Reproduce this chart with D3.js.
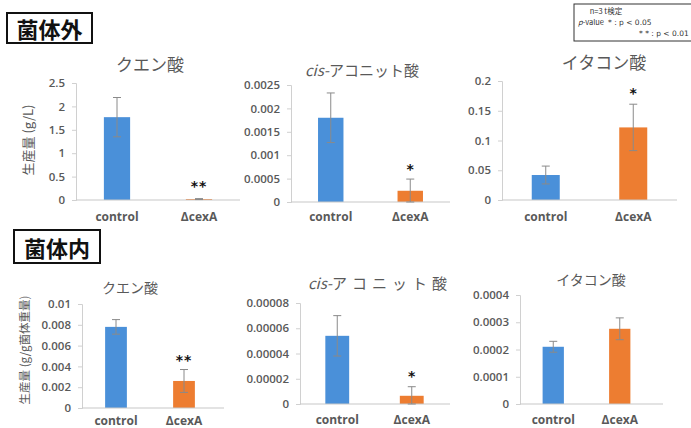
<!DOCTYPE html>
<html><head><meta charset="utf-8">
<script src="https://cdn.jsdelivr.net/npm/d3@7/dist/d3.min.js"></script>
<style>
body{margin:0;background:#fff;}
svg{display:block;}
</style></head>
<body>
<svg id="chart" width="691" height="428"></svg>
<script>
// ---- data ----
const categories = ["control", "ΔcexA"];
const sectionLabels = ["菌体外", "菌体内"];
const panelTitles = ["クエン酸", "cis-アコニット酸", "イタコン酸", "クエン酸", "cis-アコニット酸", "イタコン酸"];
const yLabels = ["生産量 (g/L)", "生産量 (g/g菌体重量)"];

const means = [
  [1.77, 0.02],
  [0.0018, 0.00024],
  [0.042, 0.122],
  [0.0078, 0.0026],
  [0.000054, 0.0000065],
  [0.00021, 0.000276]
];
const errors = [
  [0.42, 0.01],
  [0.00053, 0.00025],
  [0.015, 0.039],
  [0.0007, 0.0011],
  [0.000016, 0.0000072],
  [0.00002, 0.00004]
];
const yMax = [2.5, 0.0025, 0.2, 0.01, 0.00008, 0.0004];
const tickValues = [
  [0, 0.5, 1, 1.5, 2, 2.5],
  [0, 0.0005, 0.001, 0.0015, 0.002, 0.0025],
  [0, 0.05, 0.1, 0.15, 0.2],
  [0, 0.002, 0.004, 0.006, 0.008, 0.01],
  [0, 0.00002, 0.00004, 0.00006, 0.00008],
  [0, 0.0001, 0.0002, 0.0003, 0.0004]
];
const tickLabels = [
  ["0", "0.5", "1", "1.5", "2", "2.5"],
  ["0", "0.0005", "0.001", "0.0015", "0.002", "0.0025"],
  ["0", "0.05", "0.1", "0.15", "0.2"],
  ["0", "0.002", "0.004", "0.006", "0.008", "0.01"],
  ["0", "0.00002", "0.00004", "0.00006", "0.00008"],
  ["0", "0.0001", "0.0002", "0.0003", "0.0004"]
];
const significance = [
  ["", "**"], ["", "*"], ["", "*"], ["", "**"], ["", "*"], ["", ""]
];
const legendLines = ["n=3 t検定", "* : p < 0.05", "* * : p < 0.01"];

// ---- layout ----
const layout = [
  {x0: 76, x1: 240, axEnd: 240, yB: 200, yT: 83, tx: 150, ty: 71, tsize: 17, tls: 0, sy: 183, xp: 12},
  {x0: 291, x1: 450, axEnd: 450, yB: 202, yT: 85, tx: 362, ty: 76, tsize: 15, tls: 0, sy: 166, xp: 10},
  {x0: 502, x1: 677, axEnd: 677, yB: 200, yT: 81, tx: 604, ty: 69, tsize: 17, tls: 0, sy: 90, xp: 12},
  {x0: 82, x1: 218, axEnd: 224, yB: 408, yT: 304, tx: 130, ty: 293, tsize: 14, tls: 0, sy: 357, xp: 8},
  {x0: 300, x1: 449, axEnd: 450, yB: 404, yT: 303, tx: 380, ty: 289, tsize: 15, tls: 5, sy: 373, xp: 11},
  {x0: 520, x1: 653, axEnd: 663, yB: 404, yT: 295, tx: 591, ty: 285, tsize: 14, tls: 0, sy: 0, xp: 11}
];
const colors = ["#4a90d9", "#ed7d31"];
const gray = "#595959";

const svg = d3.select("#chart");
svg.append("rect").attr("width", 691).attr("height", 428).attr("fill", "#fff");

layout.forEach((L, i) => {
  const g = svg.append("g");
  const x = d3.scaleBand().domain(categories).range([L.x0, L.x1])
    .paddingInner(0.68).paddingOuter(0.34);
  const y = d3.scaleLinear().domain([0, yMax[i]]).range([L.yB, L.yT]);

  // y axis
  const yAxis = d3.axisLeft(y).tickValues(tickValues[i])
    .tickFormat((d, k) => tickLabels[i][k]).tickSize(4).tickPadding(7);
  const ya = g.append("g").attr("transform", `translate(${L.x0},0)`).call(yAxis);
  ya.select(".domain").attr("stroke", "#d0d0d0");
  ya.selectAll(".tick line").attr("stroke", "#d0d0d0");
  ya.selectAll(".tick text").attr("fill", gray)
    .style("font-family", "'Open Sans', sans-serif").style("font-size", "11.5px").style("font-weight", 600);

  // bars
  g.selectAll("rect.bar").data(means[i]).join("rect")
    .attr("x", (d, k) => x(categories[k]))
    .attr("width", x.bandwidth())
    .attr("y", d => y(d))
    .attr("height", d => L.yB - y(d))
    .attr("fill", (d, k) => colors[k]);

  // x axis
  const xa = g.append("g").attr("transform", `translate(0,${L.yB})`)
    .call(d3.axisBottom(x).tickSize(0).tickPadding(L.xp));
  xa.select(".domain").remove();
  g.append("line").attr("x1", L.x0).attr("x2", L.axEnd).attr("y1", L.yB).attr("y2", L.yB)
    .attr("stroke", "#c8c8c8").attr("stroke-width", 1.2);
  xa.selectAll(".tick text").attr("fill", gray)
    .style("font-family", "'Open Sans', sans-serif").style("font-size", "12px").style("font-weight", 700);

  // error bars
  means[i].forEach((m, k) => {
    const cx = x(categories[k]) + x.bandwidth() / 2;
    const e = errors[i][k];
    const top = y(m + e), bot = y(Math.max(0, m - e));
    g.append("line").attr("x1", cx).attr("x2", cx).attr("y1", top).attr("y2", bot)
      .attr("stroke", "#8a8a8a").attr("stroke-width", 1);
    [top, bot].forEach(yy => g.append("line").attr("x1", cx - 4).attr("x2", cx + 4)
      .attr("y1", yy).attr("y2", yy).attr("stroke", "#8a8a8a").attr("stroke-width", 1));
    if (significance[i][k]) {
      g.append("text").attr("x", cx).attr("y", L.sy + 8).attr("text-anchor", "middle")
        .attr("fill", "#111").style("font-family", "'DejaVu Sans', sans-serif")
        .style("font-size", "14px").style("font-weight", 700)
        .attr("letter-spacing", significance[i][k].length > 1 ? 1 : 0)
        .text(significance[i][k]);
    }
  });

  // title
  const t = g.append("text").attr("x", L.tx).attr("y", L.ty).attr("text-anchor", "middle")
    .attr("fill", gray).style("font-family", "'Noto Sans CJK JP', sans-serif")
    .style("font-size", L.tsize + "px");
  const title = panelTitles[i];
  if (title.startsWith("cis-")) {
    t.append("tspan").style("font-style", "italic").text("cis-");
    t.append("tspan").attr("letter-spacing", L.tls).text(title.slice(4));
  } else {
    t.text(title);
  }
});

// y labels
[[27, 140, yLabels[0], 13], [24, 350, yLabels[1], 11.5]].forEach(([cx, cy, txt, fs]) => {
  svg.append("text").attr("transform", `translate(${cx},${cy}) rotate(-90)`)
    .attr("text-anchor", "middle").attr("dominant-baseline", "central")
    .attr("fill", gray).style("font-family", "'Noto Sans CJK JP', sans-serif")
    .style("font-size", fs + "px").text(txt);
});

// section headers
[[7, 13, 85, 30, sectionLabels[0]], [14, 230, 86, 33, sectionLabels[1]]].forEach(([bx, by, bw, bh, txt]) => {
  svg.append("rect").attr("x", bx).attr("y", by).attr("width", bw).attr("height", bh)
    .attr("fill", "#fff").attr("stroke", "#111").attr("stroke-width", 2);
  svg.append("text").attr("x", bx + bw / 2).attr("y", by + bh / 2).attr("text-anchor", "middle")
    .attr("dominant-baseline", "central").attr("fill", "#111")
    .style("font-family", "'Noto Sans CJK JP', sans-serif").style("font-size", "22px")
    .style("font-weight", 700).text(txt);
});

// legend box
svg.append("rect").attr("x", 574).attr("y", 4).attr("width", 130).attr("height", 37)
  .attr("fill", "#fff").attr("stroke", "#333").attr("stroke-width", 1);
const lf = "'Noto Sans CJK JP', sans-serif";
svg.append("text").attr("x", 606).attr("y", 14).attr("text-anchor", "middle").attr("fill", "#333")
  .style("font-family", lf).style("font-size", "7.5px").text(legendLines[0]);
const l2 = svg.append("text").attr("x", 578).attr("y", 25).attr("fill", "#333")
  .style("font-family", lf).style("font-size", "7.5px");
l2.append("tspan").style("font-style", "italic").text("p");
l2.append("tspan").text("-value");
svg.append("text").attr("x", 608).attr("y", 25).attr("fill", "#333")
  .style("font-family", "'DejaVu Sans', sans-serif").style("font-size", "7.5px").text(legendLines[1]);
svg.append("text").attr("x", 639).attr("y", 36).attr("fill", "#333")
  .style("font-family", "'DejaVu Sans', sans-serif").style("font-size", "7.5px").text(legendLines[2]);
</script>
</body></html>
